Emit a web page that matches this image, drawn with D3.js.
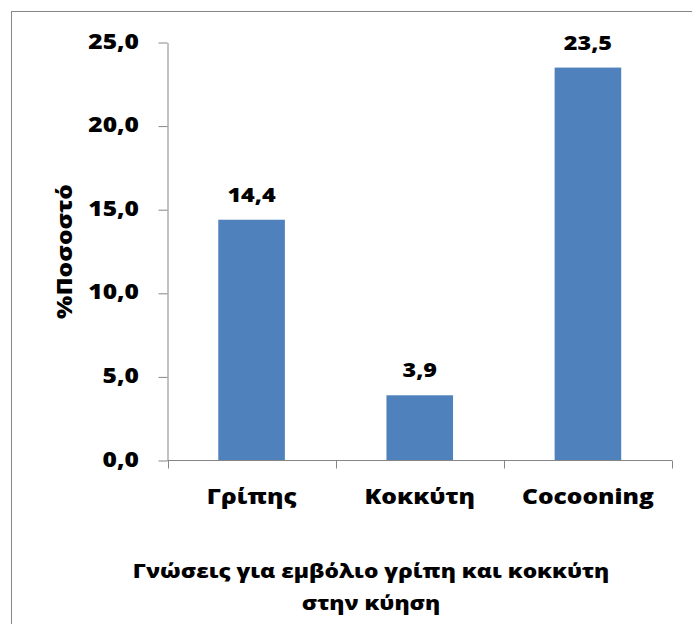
<!DOCTYPE html>
<html>
<head>
<meta charset="utf-8">
<script src="https://cdn.jsdelivr.net/npm/d3@7"></script>
<style>
  html, body { margin: 0; padding: 0; background: #fff; }
  svg { display: block; }
  text { font-family: "Open Sans", "Noto Sans", sans-serif; font-weight: 800; fill: #000; }
</style>
</head>
<body>
<script>
// Chart data
const categories = ["Γρίπης", "Κοκκύτη", "Cocooning"];
const values = [14.4, 3.9, 23.5];
const valueLabels = ["14,4", "3,9", "23,5"];
const yTicks = [0, 5, 10, 15, 20, 25];
const yTickLabels = ["0,0", "5,0", "10,0", "15,0", "20,0", "25,0"];
const yTitle = "%Ποσοστό";
const xTitleLines = ["Γνώσεις για εμβόλιο γρίπη και κοκκύτη", "στην κύηση"];

const W = 692, H = 624;
const axisColor = "#868686";
const barColor = "#4F81BD";
const sx = 1.17; // horizontal text stretch

const svg = d3.select("body").append("svg")
  .attr("width", W).attr("height", H);

// chart area frame (runs off the right and bottom edges)
svg.append("rect")
  .attr("x", 11.5).attr("y", 11.5)
  .attr("width", 900).attr("height", 900)
  .attr("fill", "#fff")
  .attr("stroke", axisColor).attr("stroke-width", 1);

const y = d3.scaleLinear().domain([0, 25]).range([460.5, 42.5]);
const x = d3.scaleBand().domain(categories)
  .range([167.5, 672]).paddingInner(0.604).paddingOuter(0.302);

// bars
svg.append("g").selectAll("rect")
  .data(values)
  .join("rect")
  .attr("x", (d, i) => x(categories[i]))
  .attr("y", d => y(d))
  .attr("width", x.bandwidth())
  .attr("height", d => y(0) - y(d))
  .attr("fill", barColor);

// y axis
const yAxis = svg.append("g")
  .attr("transform", "translate(167.5,0)")
  .call(d3.axisLeft(y).tickValues(yTicks).tickSize(9).tickSizeOuter(0).tickFormat(""));
yAxis.select(".domain").attr("stroke", axisColor);
yAxis.selectAll(".tick line").attr("stroke", axisColor);

// x axis with tick marks on category boundaries
const [x0, x1] = x.range();
const catW = (x1 - x0) / categories.length;
const xAxis = svg.append("g").attr("transform", "translate(0,460.5)");
xAxis.append("line")
  .attr("x1", x0).attr("x2", x1)
  .attr("stroke", axisColor);
xAxis.selectAll("line.bt")
  .data(d3.range(categories.length + 1))
  .join("line")
  .attr("class", "bt")
  .attr("x1", i => Math.round(x0 + i * catW) + 0.5)
  .attr("x2", i => Math.round(x0 + i * catW) + 0.5)
  .attr("y1", 0).attr("y2", 8)
  .attr("stroke", axisColor);

// y tick labels
svg.append("g").selectAll("text")
  .data(yTicks)
  .join("text")
  .attr("text-anchor", "end")
  .attr("font-size", 21)
  .attr("transform", d => `translate(139,${y(d) + 6}) scale(${sx},1)`)
  .text((d, i) => yTickLabels[i]);

// category labels
svg.append("g").selectAll("text")
  .data(categories)
  .join("text")
  .attr("text-anchor", "middle")
  .attr("font-size", 21)
  .attr("transform", d => `translate(${x(d) + x.bandwidth() / 2},504) scale(${sx},1)`)
  .text(d => d);

// value labels
svg.append("g").selectAll("text")
  .data(values)
  .join("text")
  .attr("text-anchor", "middle")
  .attr("font-size", 20)
  .attr("transform", (d, i) => `translate(${x(categories[i]) + x.bandwidth() / 2},${y(d) - 18}) scale(${sx},1)`)
  .text((d, i) => valueLabels[i]);

// y axis title
svg.append("text")
  .attr("text-anchor", "middle")
  .attr("font-size", 21)
  .attr("transform", `translate(72,${(y(0) + y(25)) / 2}) rotate(-90) scale(${sx},1)`)
  .text(yTitle);

// x axis title (two lines)
svg.append("g").selectAll("text")
  .data(xTitleLines)
  .join("text")
  .attr("text-anchor", "middle")
  .attr("font-size", 20)
  .attr("transform", (d, i) => `translate(371,${578 + i * 32}) scale(${sx * 0.97},1)`)
  .text(d => d);
</script>
</body>
</html>
